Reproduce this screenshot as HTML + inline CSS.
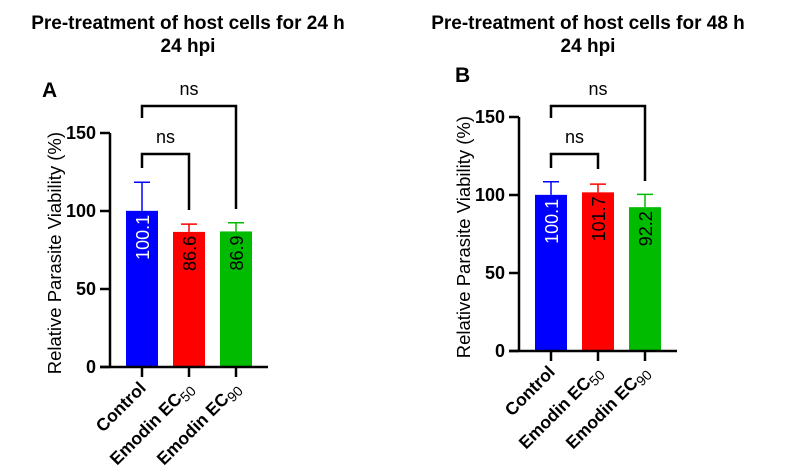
<!DOCTYPE html>
<html><head><meta charset="utf-8"><style>
body{margin:0;background:#fff;}
svg{display:block;font-family:"Liberation Sans",Arial,sans-serif;}
</style></head><body>
<svg id="c" width="789" height="473" viewBox="0 0 789 473"></svg>
<script>
const categories=["Control","Emodin EC","Emodin EC"];
const subs=["","50","90"];
const colors=["#0000ff","#ff0000","#00bb00"];
const labelColors=["#ffffff","#000000","#000000"];
const valuesA=[100.1,86.6,86.9];
const errA=[18.3,5,5.6];
const valuesB=[100.1,101.7,92.2];
const errB=[8.4,5.3,8.2];
const ticks=[0,50,100,150];
const svg=document.getElementById('c');
const NS='http://www.w3.org/2000/svg';
function mk(t,a,p){const e=document.createElementNS(NS,t);for(const k in a)e.setAttribute(k,a[k]);(p||svg).appendChild(e);return e;}
function panel(cfg){
  const g=mk('g',{});
  
  
  const y=v=>cfg.y0-v*1.56;
  const x=i=>cfg.x0+i*47;
  const t1=mk('text',{x:cfg.tx,y:29,'text-anchor':'middle','font-size':19,'font-weight':'bold'},g);t1.textContent=cfg.title;
  
  const t2=mk('text',{x:cfg.tx,y:52,'text-anchor':'middle','font-size':19,'font-weight':'bold'},g);t2.textContent='24 hpi';
  
  const pl=mk('text',{x:cfg.lx,y:cfg.ly,'font-size':21,'font-weight':'bold'},g);pl.textContent=cfg.letter;
  
  cfg.vals.forEach((v,i)=>{
    const cx=x(i);
    const r=mk('rect',{x:cx-16,y:y(v),width:32,height:y(0)-y(v),fill:colors[i]},g);
    
    const top=y(v+cfg.err[i]);
    const el=mk('path',{d:`M${cx},${y(v)}V${top}M${cx-8},${top}H${cx+8}`,stroke:colors[i],'stroke-width':1.5,fill:'none'},g);
    
    const tl=mk('text',{transform:`translate(${cx+7},${y(v)+4}) rotate(-90)`,'text-anchor':'end','font-size':18,fill:labelColors[i]},g);
    tl.textContent=v.toFixed(1);
    
    mk('line',{x1:cx,y1:y(0),x2:cx,y2:y(0)+10,stroke:'#000','stroke-width':2.5},g);
    const xl=mk('text',{transform:`translate(${cx+5},${y(0)+22}) rotate(-45)`,'text-anchor':'end','font-size':17.5,'font-weight':'bold'},g);
    xl.textContent=categories[i];
    if(subs[i]){const ts=mk('tspan',{'font-size':14,'font-weight':'normal',dy:4},xl);ts.textContent=subs[i];}
    
  });
  mk('path',{d:`M${cfg.x0-42},${y(0)}H${cfg.x0+126}M${cfg.x0-32},${y(0)}V${y(150)}`,stroke:'#000','stroke-width':2.5,fill:'none'},g);
  ticks.forEach(tv=>{
    mk('line',{x1:cfg.x0-42,y1:y(tv),x2:cfg.x0-32,y2:y(tv),stroke:'#000','stroke-width':2.5},g);
    const tt=mk('text',{x:cfg.x0-46,y:y(tv)+6,'text-anchor':'end','font-size':18,'font-weight':'bold'},g);tt.textContent=tv;
    
  });
  const yt=mk('text',{transform:`translate(${cfg.x0-81},${y(73)}) rotate(-90)`,'text-anchor':'middle','font-size':18.5},g);
  yt.textContent='Relative Parasite Viability (%)';
  
  cfg.br.forEach((b,k)=>{
    const p=mk('path',{d:`M${x(0)},${b[1]}V${b[0]}H${x(b[3])}V${b[2]}`,stroke:'#000','stroke-width':2.5,fill:'none'},g);
    
    const n=mk('text',{x:(x(0)+x(b[3]))/2,y:b[0]-11,'text-anchor':'middle','font-size':18},g);n.textContent='ns';
    
  });
}
panel({name:'panel-a',x0:142,y0:367,vals:valuesA,err:errA,title:'Pre-treatment of host cells for 24 h',tx:188,letter:'A',lx:42,ly:97,
  br:[[154,168,210,1],[106,118,209,2]]});
panel({name:'panel-b',x0:551,y0:351,vals:valuesB,err:errB,title:'Pre-treatment of host cells for 48 h',tx:588,letter:'B',lx:455,ly:82,
  br:[[154,168,169,1],[106,118,181,2]]});
</script>
</body></html>
